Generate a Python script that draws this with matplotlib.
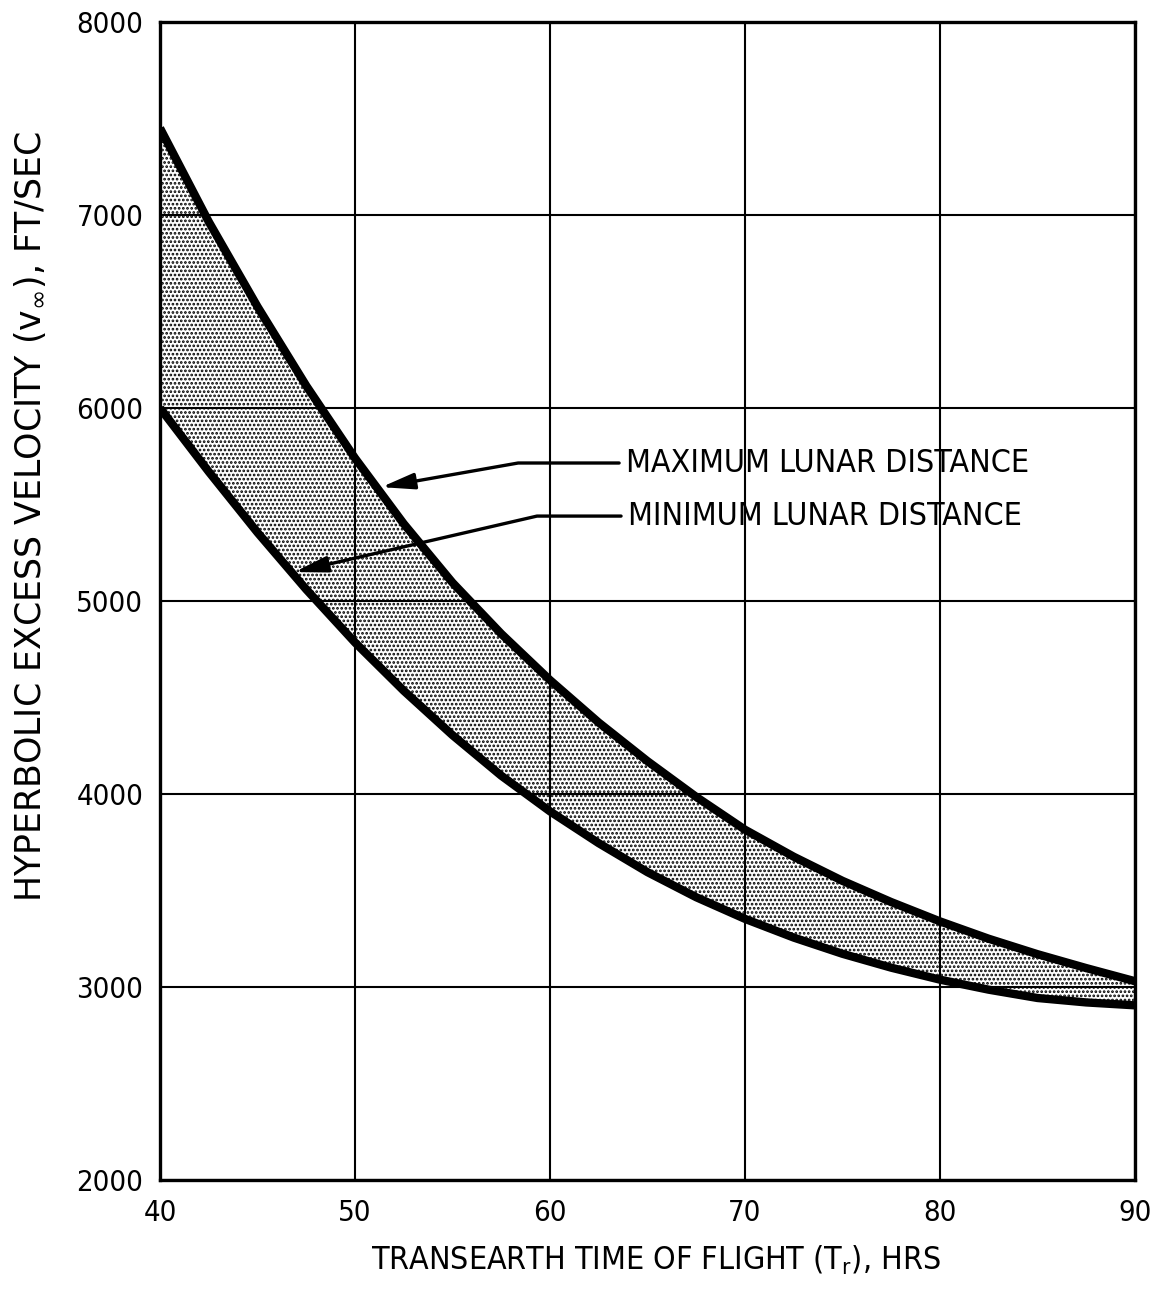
import matplotlib
matplotlib.use("Agg")
import matplotlib.pyplot as plt

# ---- data ----
hours = [40, 42.5, 45, 47.5, 50, 52.5, 55, 57.5, 60, 62.5, 65, 67.5, 70,
         72.5, 75, 77.5, 80, 82.5, 85, 87.5, 90]
v_max_dist = [7450, 6965, 6525, 6115, 5740, 5400, 5095, 4830, 4590, 4370,
              4170, 3985, 3815, 3675, 3550, 3440, 3340, 3250, 3170, 3098, 3030]
v_min_dist = [6000, 5670, 5355, 5060, 4785, 4535, 4305, 4095, 3910, 3745,
              3595, 3465, 3353, 3256, 3172, 3100, 3038, 2986, 2943, 2920, 2905]
x_ticks = [40, 50, 60, 70, 80, 90]
y_ticks = [2000, 3000, 4000, 5000, 6000, 7000, 8000]
label_max = "MAXIMUM LUNAR DISTANCE"
label_min = "MINIMUM LUNAR DISTANCE"

plt.rcParams['font.family'] = ['DejaVu Sans']
plt.rcParams['hatch.linewidth'] = 1.3
plt.rcParams['mathtext.fontset'] = 'dejavusans'

fig = plt.figure(figsize=(11.64, 12.89), dpi=100)
ax = fig.add_axes([160/1164, 1 - 1180/1289, (1135-160)/1164, (1180-22)/1289])

ax.set_xlim(40, 90)
ax.set_ylim(2000, 8000)
ax.set_xticks(x_ticks)
ax.set_yticks(y_ticks)
ax.grid(True, color='black', linewidth=1.5, zorder=1)
ax.set_axisbelow(True)

ax.fill_between(hours, v_min_dist, v_max_dist, facecolor='none',
                edgecolor='black', hatch='....', linewidth=0, zorder=2)
ax.plot(hours, v_max_dist, color='black', linewidth=6,
        solid_capstyle='butt', solid_joinstyle='round', zorder=3)
ax.plot(hours, v_min_dist, color='black', linewidth=6,
        solid_capstyle='butt', solid_joinstyle='round', zorder=3)

for s in ax.spines.values():
    s.set_linewidth(2.4)
    s.set_zorder(4)

ax.tick_params(length=0, pad=12)
for lbl in ax.get_xticklabels() + ax.get_yticklabels():
    lbl.set_fontsize(21)
    lbl.set_fontstretch('condensed')
ax.tick_params(axis='x', pad=14)

ax.set_xlabel(r"TRANSEARTH TIME OF FLIGHT ($\mathregular{T_r}$), HRS",
              fontsize=23, fontstretch='condensed', labelpad=20)
ax.xaxis.set_label_coords(0.509, -0.055)
ax.set_ylabel(r"HYPERBOLIC EXCESS VELOCITY ($\mathregular{v_\infty}$), FT/SEC",
              fontsize=25, labelpad=20)
ax.yaxis.set_label_coords(-0.116, 0.573)

arrow_kw = dict(arrowstyle='-|>,head_length=0.9,head_width=0.22',
                color='black', lw=2.4, mutation_scale=22,
                shrinkA=3, shrinkB=0)

ax.annotate(label_max, xy=(51.35, 5590), xytext=(63.9, 5715),
            fontsize=23, fontstretch='condensed', va='center', ha='left',
            arrowprops=dict(connectionstyle='angle,angleA=0,angleB=10,rad=0',
                            **arrow_kw), zorder=5)
ax.annotate(label_min, xy=(46.9, 5150), xytext=(64.0, 5440),
            fontsize=23, fontstretch='condensed', va='center', ha='left',
            arrowprops=dict(connectionstyle='angle,angleA=0,angleB=13,rad=0',
                            **arrow_kw), zorder=5)

fig.savefig("out.png", dpi=100, facecolor='white')
